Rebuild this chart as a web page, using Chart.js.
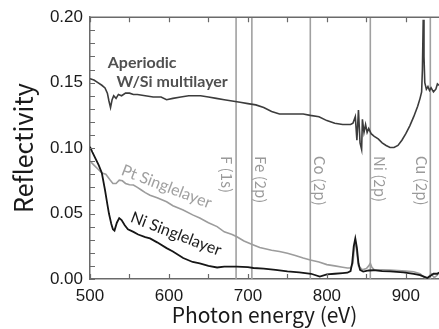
<!DOCTYPE html>
<html>
<head>
<meta charset="utf-8">
<title>Reflectivity vs photon energy</title>
<script src="https://cdn.jsdelivr.net/npm/chart.js@4/dist/chart.umd.min.js"></script>
<style>
  html, body { margin: 0; padding: 0; background: #fff; }
  canvas { display: block; }
</style>
</head>
<body>
<canvas id="chart" width="439" height="329"></canvas>
<script>
// Aperiodic W/Si multilayer (dark grey curve)
const WSI_E = [500, 505, 510, 515, 519, 522, 524, 526, 528, 530, 533, 536, 540, 545, 550, 555, 560, 570, 580, 590,
  597, 605, 615, 625, 640, 650, 660, 670, 680, 690, 700, 710, 720, 730, 740, 750, 760, 770, 779, 790,
  800, 810, 820, 830, 833, 836, 838, 840, 842, 844, 845, 847, 849, 851, 853, 856, 860, 865, 870, 875,
  880, 885, 890, 895, 900, 905, 910, 915, 918, 920, 921, 922, 923, 924, 926, 928, 930, 932, 935, 938, 940, 942];
const WSI_R = [0.153, 0.152, 0.150, 0.148, 0.146, 0.142, 0.136, 0.131, 0.137, 0.140, 0.138, 0.141, 0.140, 0.142, 0.142, 0.141, 0.141, 0.140, 0.139, 0.139,
  0.137, 0.138, 0.139, 0.140, 0.140, 0.139, 0.138, 0.137, 0.136, 0.135, 0.134, 0.133, 0.131, 0.128, 0.126, 0.126, 0.126, 0.126, 0.125, 0.124,
  0.121, 0.119, 0.118, 0.118, 0.119, 0.124, 0.106, 0.129, 0.104, 0.099, 0.122, 0.112, 0.118, 0.112, 0.115, 0.111, 0.109, 0.107, 0.104, 0.102,
  0.1005, 0.1005, 0.102, 0.106, 0.111, 0.117, 0.124, 0.132, 0.138, 0.143, 0.160, 0.198, 0.170, 0.150, 0.145, 0.147, 0.144, 0.146, 0.143, 0.145, 0.149, 0.148];

// Pt singlelayer (light grey curve)
const PT_E = [500, 505, 510, 515, 520, 525, 529, 533, 537, 541, 545, 550, 555, 560, 565, 570, 576, 585, 597, 605,
  618, 630, 639, 650, 661, 670, 680, 686, 695, 707, 715, 730, 740, 750, 760, 770, 779, 790, 800, 810,
  820, 826, 830, 833, 835, 836, 838, 840, 845, 850, 853, 855, 857, 860, 870, 880, 890, 900, 910, 918,
  922, 925, 928, 932, 936, 940, 942];
const PT_R = [0.090, 0.087, 0.084, 0.081, 0.080, 0.076, 0.073, 0.073, 0.0755, 0.075, 0.073, 0.072, 0.0718, 0.070, 0.068, 0.066, 0.064, 0.062, 0.059, 0.056,
  0.0527, 0.049, 0.0466, 0.043, 0.040, 0.036, 0.034, 0.0323, 0.029, 0.026, 0.024, 0.022, 0.021, 0.0196, 0.018, 0.016, 0.0145, 0.013, 0.011, 0.010,
  0.009, 0.0084, 0.0084, 0.012, 0.025, 0.029, 0.020, 0.010, 0.007, 0.008, 0.010, 0.012, 0.009, 0.007, 0.007, 0.0068, 0.0065, 0.006, 0.0055, 0.004,
  0.002, 0.0005, 0.001, 0.004, 0.001, 0.003, 0.005];

// Ni singlelayer (black curve)
const NI_E = [500, 503, 507, 511, 515, 519, 522, 524, 527, 529, 531, 534, 537, 540, 544, 548, 555, 561, 570, 576,
  585, 597, 605, 618, 630, 639, 650, 661, 670, 686, 700, 707, 720, 735, 750, 765, 780, 791, 800, 810,
  820, 826, 830, 832, 834, 836, 838, 840, 842, 846, 853, 859, 870, 880, 897, 910, 918, 922, 927, 930,
  935, 940, 942];
const NI_R = [0.101, 0.097, 0.092, 0.087, 0.081, 0.068, 0.057, 0.050, 0.042, 0.038, 0.037, 0.043, 0.0465, 0.045, 0.041, 0.038, 0.036, 0.034, 0.032, 0.031,
  0.028, 0.0236, 0.021, 0.016, 0.013, 0.012, 0.010, 0.0088, 0.0095, 0.0094, 0.009, 0.0084, 0.008, 0.007, 0.0058, 0.005, 0.004, 0.0018, 0.0035, 0.004,
  0.0045, 0.0048, 0.006, 0.012, 0.025, 0.031, 0.024, 0.012, 0.007, 0.0056, 0.0065, 0.0067, 0.006, 0.0058, 0.005, 0.004, 0.003, 0.002, 0.0008, 0.002,
  0.004, 0.004, 0.005];

// absorption edges marked with vertical lines
const EDGE_E = [685, 705, 779, 855, 931];
const EDGE_LABELS = ['F (1s)', 'Fe (2p)', 'Co (2p)', 'Ni (2p)', 'Cu (2p)'];
const EDGE_SIDE = [-1, 1, 1, 1, -1]; // label left (-1) or right (+1) of its line

const X_TICKS = [500, 550, 600, 650, 700, 750, 800, 850, 900];
const Y_TICKS = [0, 0.01, 0.02, 0.03, 0.04, 0.05, 0.06, 0.07, 0.08, 0.09, 0.10,
  0.11, 0.12, 0.13, 0.14, 0.15, 0.16, 0.17, 0.18, 0.19, 0.20];

const toPoints = (xs, ys) => xs.map((x, i) => ({ x, y: ys[i] }));

const edgeDatasets = EDGE_E.map((e) => ({
  data: [{ x: e, y: 0 }, { x: e, y: 0.2 }],
  borderColor: '#a0a0a0',
  borderWidth: 1.6,
  pointRadius: 0,
  order: 10,
}));

// text placed in data coordinates
const curveLabels = [
  { text: 'Aperiodic', x: 566, y: 0.1655, color: '#505050', font: 'bold 16px Lato', rot: 0 },
  { text: 'W/Si multilayer', x: 604, y: 0.1505, color: '#505050', font: 'bold 16px Lato', rot: 0 },
  { text: 'Pt Singlelayer', x: 597, y: 0.0705, color: '#a0a0a0', font: '16px Lato', rot: 21 },
  { text: 'Ni Singlelayer', x: 609, y: 0.0344, color: '#1a1a1a', font: '16px Lato', rot: 21 },
];

const annotations = {
  id: 'annotations',
  beforeDraw(chart) {
    const { ctx } = chart;
    ctx.save();
    ctx.fillStyle = '#fff';
    ctx.fillRect(0, 0, chart.width, chart.height);
    ctx.restore();
  },
  afterDraw(chart) {
    const { ctx, chartArea } = chart;
    const xs = chart.scales.x;
    const ys = chart.scales.y;
    ctx.save();
    // top frame line and inward ticks
    ctx.strokeStyle = '#6a6a6a';
    ctx.lineWidth = 1.5;
    ctx.beginPath();
    ctx.moveTo(chartArea.left, chartArea.top);
    ctx.lineTo(chartArea.right, chartArea.top);
    ctx.stroke();
    ctx.lineWidth = 1.2;
    ctx.beginPath();
    for (const v of X_TICKS) {
      const px = Math.round(xs.getPixelForValue(v)) + 0.5;
      ctx.moveTo(px, chartArea.bottom);
      ctx.lineTo(px, chartArea.bottom - 5);
      ctx.moveTo(px, chartArea.top);
      ctx.lineTo(px, chartArea.top + 5);
    }
    for (const v of Y_TICKS) {
      const py = Math.round(ys.getPixelForValue(v)) + 0.5;
      ctx.moveTo(chartArea.left, py);
      ctx.lineTo(chartArea.left + 5, py);
    }
    ctx.stroke();

    // edge labels, rotated to read downward
    ctx.font = '15px "Noto Sans CJK JP"';
    ctx.fillStyle = '#9a9a9a';
    ctx.textAlign = 'left';
    ctx.textBaseline = 'middle';
    EDGE_E.forEach((e, i) => {
      const px = xs.getPixelForValue(e) + EDGE_SIDE[i] * 9;
      const py = ys.getPixelForValue(0.094);
      ctx.save();
      ctx.translate(px, py);
      ctx.rotate(Math.PI / 2);
      ctx.fillText(EDGE_LABELS[i], 0, 0);
      ctx.restore();
    });

    // curve labels
    ctx.textAlign = 'center';
    for (const l of curveLabels) {
      ctx.save();
      ctx.font = l.font;
      ctx.fillStyle = l.color;
      ctx.translate(xs.getPixelForValue(l.x), ys.getPixelForValue(l.y));
      ctx.rotate(l.rot * Math.PI / 180);
      ctx.fillText(l.text, 0, 0);
      ctx.restore();
    }
    ctx.restore();
  },
};

new Chart(document.getElementById('chart'), {
  type: 'line',
  data: {
    datasets: [
      { data: toPoints(WSI_E, WSI_R), borderColor: '#3c3c3c', borderWidth: 1.6, pointRadius: 0, order: 1 },
      { data: toPoints(NI_E, NI_R), borderColor: '#161616', borderWidth: 1.8, pointRadius: 0, order: 0 },
      { data: toPoints(PT_E, PT_R), borderColor: '#9c9c9c', borderWidth: 1.6, pointRadius: 0, order: 2 },
      ...edgeDatasets,
    ],
  },
  options: {
    responsive: false,
    animation: false,
    devicePixelRatio: 1,
    layout: { padding: { top: 17, right: 0, left: 0, bottom: 0 } },
    plugins: { legend: { display: false }, tooltip: { enabled: false } },
    scales: {
      x: {
        type: 'linear',
        min: 500,
        max: 942,
        afterBuildTicks: (scale) => { scale.ticks = X_TICKS.map((value) => ({ value })); },
        afterFit: (scale) => { scale.height = 50; },
        grid: { drawOnChartArea: false, drawTicks: false },
        border: { color: '#6a6a6a', width: 1.5 },
        ticks: {
          padding: 7,
          maxRotation: 0,
          autoSkip: false,
          color: '#1a1a1a',
          font: { family: 'Liberation Sans', size: 17 },
          callback: (v) => (v % 100 === 0 ? String(v) : ''),
        },
        title: {
          display: true,
          text: 'Photon energy (eV)',
          color: '#1a1a1a',
          font: { family: '"Noto Sans CJK JP"', size: 21 },
          padding: { top: 0, bottom: 1 },
        },
      },
      y: {
        min: 0,
        max: 0.2,
        afterBuildTicks: (scale) => { scale.ticks = Y_TICKS.map((value) => ({ value })); },
        afterFit: (scale) => { scale.width = 90; },
        grid: { drawOnChartArea: false, drawTicks: false },
        border: { color: '#6a6a6a', width: 1.5 },
        ticks: {
          padding: 7,
          autoSkip: false,
          color: '#1a1a1a',
          font: { family: 'Liberation Sans', size: 17 },
          callback: (v) => (Math.round(v * 100) % 5 === 0 ? v.toFixed(2) : ''),
        },
        title: {
          display: true,
          text: 'Reflectivity',
          color: '#1a1a1a',
          font: { family: '"Noto Sans CJK JP"', size: 25 },
          padding: { top: 8, bottom: 0 },
        },
      },
    },
  },
  plugins: [annotations],
});
</script>
</body>
</html>
